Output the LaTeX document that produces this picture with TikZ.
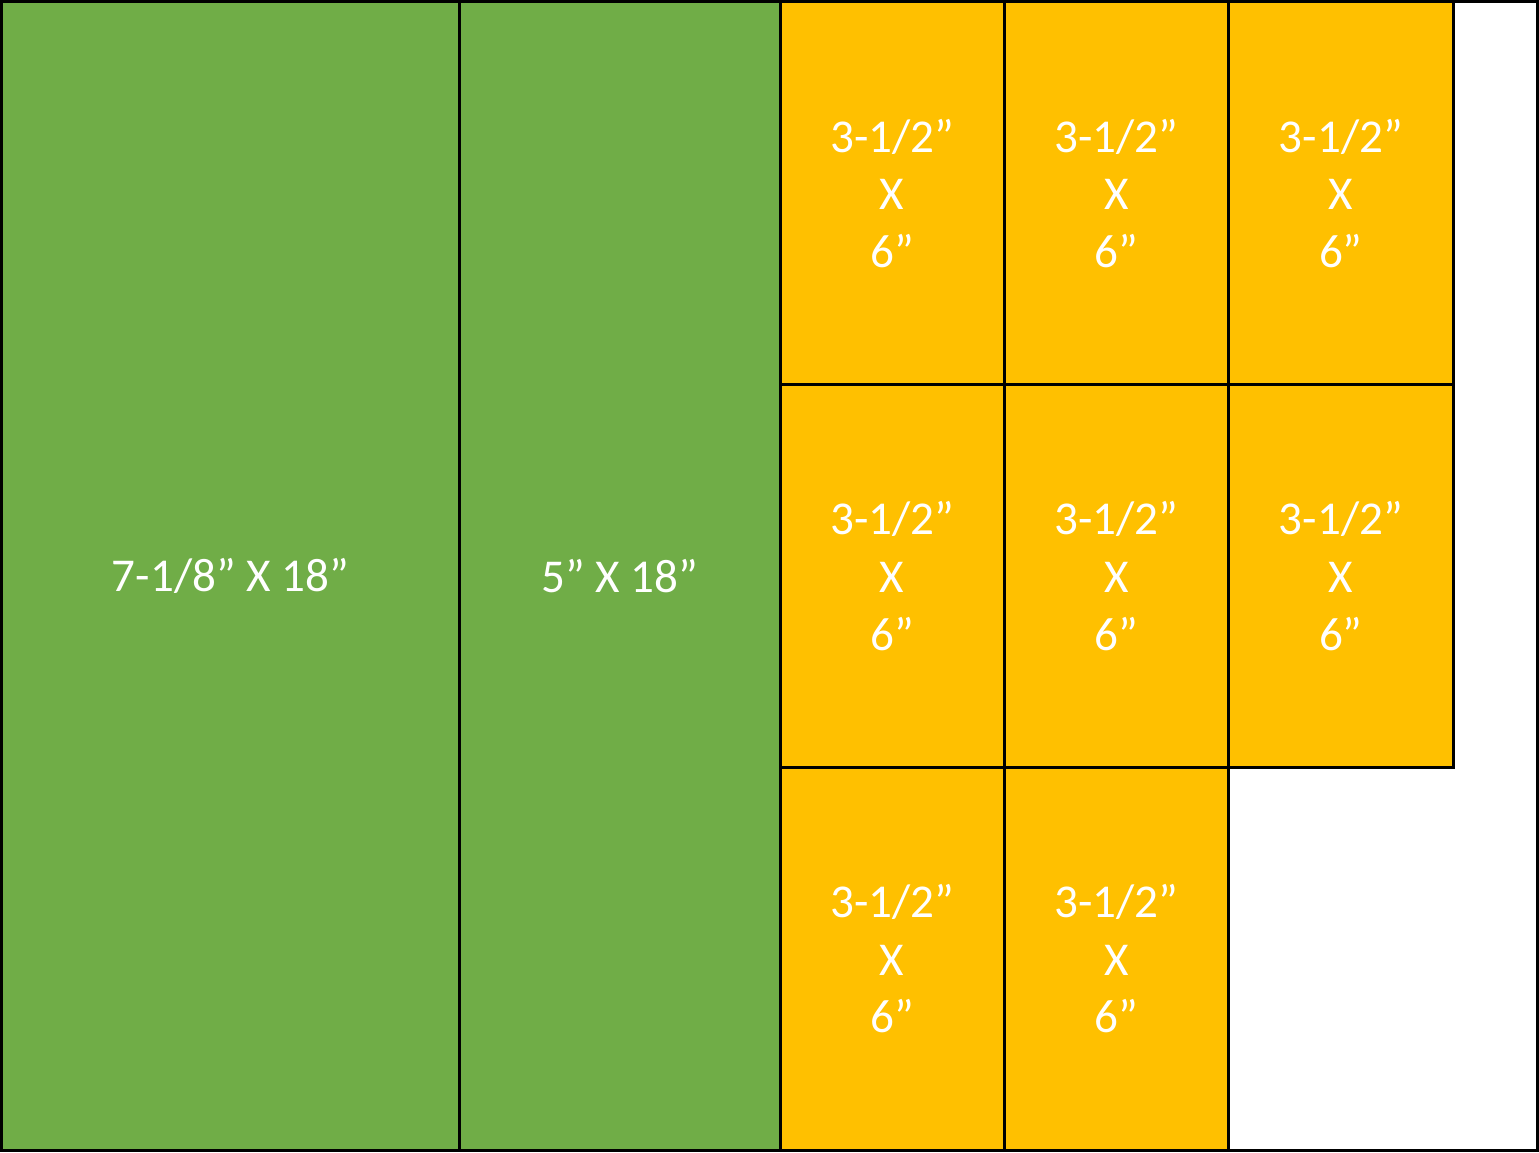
\documentclass[tikz,border=0pt]{standalone}
\usepackage{fontspec}
\setmainfont{Carlito}
\usetikzlibrary{positioning}
\definecolor{cutgreen}{RGB}{112,173,71}
\definecolor{cutyellow}{RGB}{255,192,0}
\tikzset{
  piece/.style={rectangle, draw=black, line width=0.85pt, inner sep=0pt, outer sep=0pt,
    text=white, align=center, font=\fontsize{13.4}{16.4}\selectfont},
  greenpiece/.style={piece, fill=cutgreen, minimum height=11.48cm},
  yellowpiece/.style={piece, fill=cutyellow, minimum width=2.2433cm, minimum height=3.8267cm}
}

\begin{document}
\begin{tikzpicture}[node distance=0cm]
  \useasboundingbox (0,0) rectangle (15.39,11.52);

  % Sheet
  \draw[line width=0.85pt] (0.015,0.015) rectangle (15.375,11.505);

  % Strips
  \node[greenpiece, minimum width=4.57cm, anchor=north west] (strip1) at (0.02,11.50) {7-1/8” X 18”};
  \node[greenpiece, minimum width=3.21cm, right=of strip1] (strip2) {5” X 18”};

  % Small pieces
  \node[yellowpiece, anchor=north west] (cut11) at (strip2.north east) {3-1/2”\\X\\6”};
  \node[yellowpiece, right=of cut11] (cut12) {3-1/2”\\X\\6”};
  \node[yellowpiece, right=of cut12] (cut13) {3-1/2”\\X\\6”};

  \node[yellowpiece, below=of cut11] (cut21) {3-1/2”\\X\\6”};
  \node[yellowpiece, below=of cut12] (cut22) {3-1/2”\\X\\6”};
  \node[yellowpiece, below=of cut13] (cut23) {3-1/2”\\X\\6”};

  \node[yellowpiece, below=of cut21] (cut31) {3-1/2”\\X\\6”};
  \node[yellowpiece, below=of cut22] (cut32) {3-1/2”\\X\\6”};

\end{tikzpicture}
\end{document}
